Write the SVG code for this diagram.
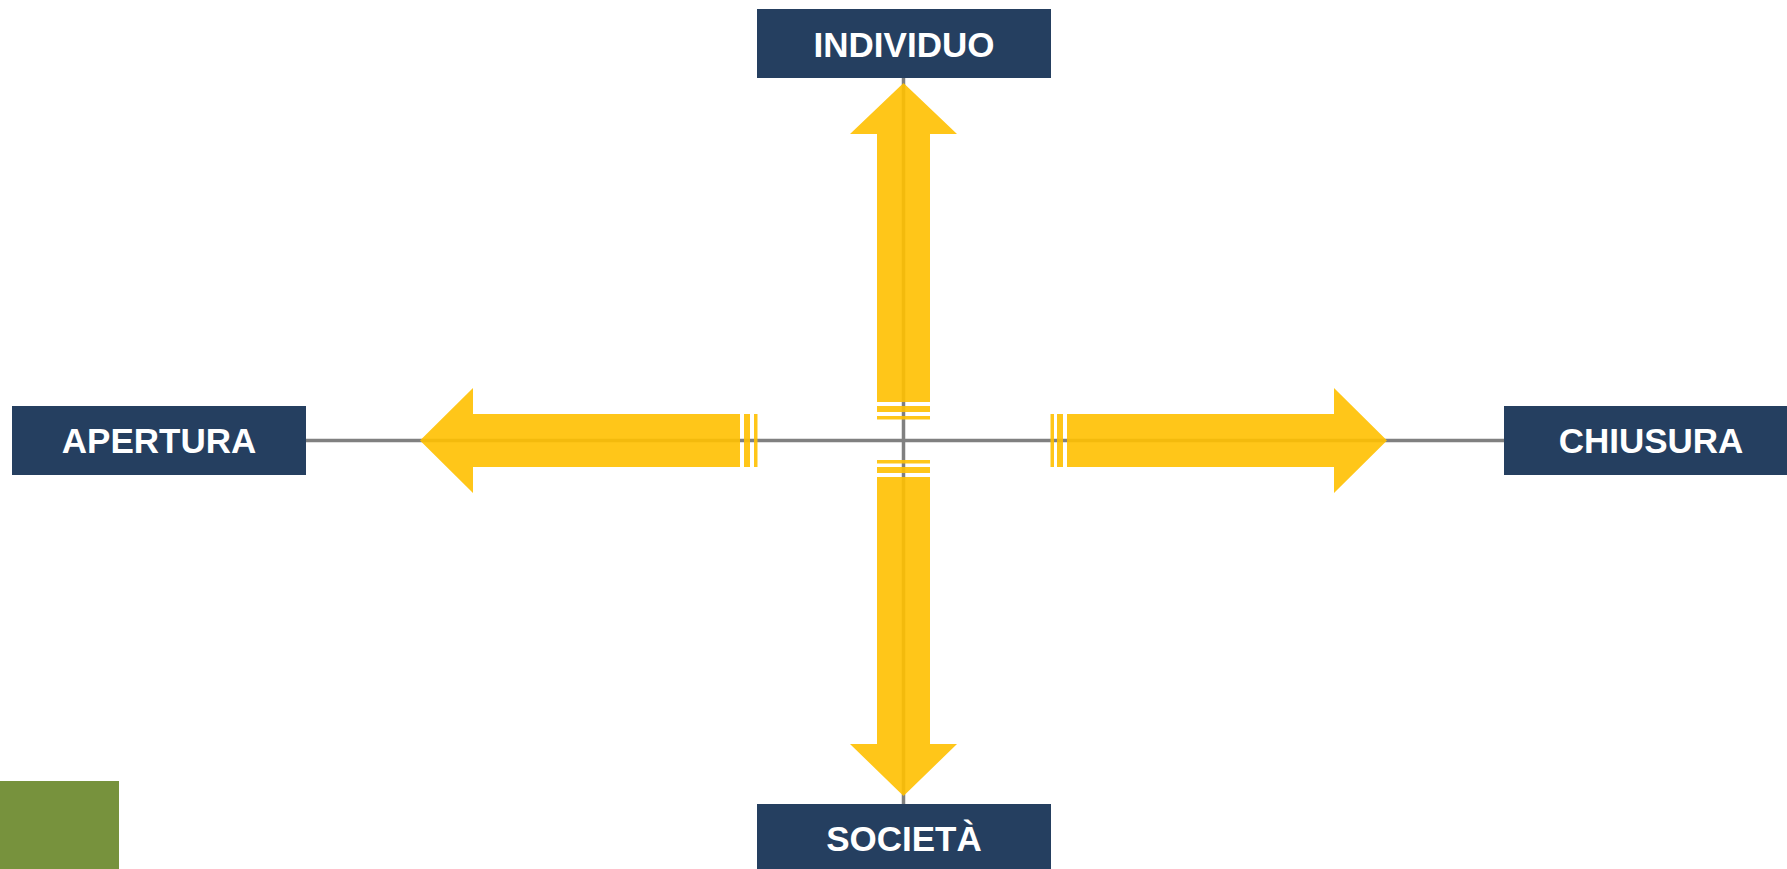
<svg xmlns="http://www.w3.org/2000/svg" width="1787" height="869" viewBox="0 0 1787 869">
<style>
.box{fill:#253F60}
.lbl{fill:#FFFFFF;font-family:"Liberation Sans",Arial,sans-serif;font-weight:bold;font-size:35px;text-anchor:middle}
.axis{stroke:#808080;stroke-width:3.5;fill:none}
.arw{fill:#FFC000;fill-opacity:0.9}
</style>
<rect width="1787" height="869" fill="#FFFFFF"/>
<g id="connectors">
<line class="axis" x1="903.5" y1="78" x2="903.5" y2="804"/>
<line class="axis" x1="306" y1="440.5" x2="1504" y2="440.5"/>
<g id="arrow-up">
<polygon class="arw" points="903.5,83 957,134 930,134 930,402 877,402 877,134 850,134"/>
<rect class="arw" x="877" y="406" width="53" height="6"/>
<rect class="arw" x="877" y="416" width="53" height="3.5"/>
</g>
<g id="arrow-down">
<polygon class="arw" points="903.5,796 957,744 930,744 930,477 877,477 877,744 850,744"/>
<rect class="arw" x="877" y="467" width="53" height="6"/>
<rect class="arw" x="877" y="460" width="53" height="3.5"/>
</g>
<g id="arrow-left">
<polygon class="arw" points="420,440.5 473,388 473,414 740,414 740,467 473,467 473,493"/>
<rect class="arw" x="744" y="414" width="6" height="53"/>
<rect class="arw" x="754" y="414" width="3.5" height="53"/>
</g>
<g id="arrow-right">
<polygon class="arw" points="1387,440.5 1334,388 1334,414 1067,414 1067,467 1334,467 1334,493"/>
<rect class="arw" x="1057" y="414" width="6" height="53"/>
<rect class="arw" x="1050.5" y="414" width="3.5" height="53"/>
</g>
</g>
<g id="node-individuo">
<rect class="box" x="757" y="9" width="294" height="69"/>
<text class="lbl" x="904" y="56.5">INDIVIDUO</text>
</g>
<g id="node-apertura">
<rect class="box" x="12" y="406" width="294" height="69"/>
<text class="lbl" x="159" y="453">APERTURA</text>
</g>
<g id="node-chiusura">
<rect class="box" x="1504" y="406" width="283" height="69"/>
<text class="lbl" x="1651" y="453">CHIUSURA</text>
</g>
<g id="node-societa">
<rect class="box" x="757" y="804" width="294" height="65"/>
<text class="lbl" x="904" y="851">SOCIETÀ</text>
</g>
<g id="green-block">
<rect x="0" y="781" width="119" height="88" fill="#77923D"/>
</g>
</svg>
